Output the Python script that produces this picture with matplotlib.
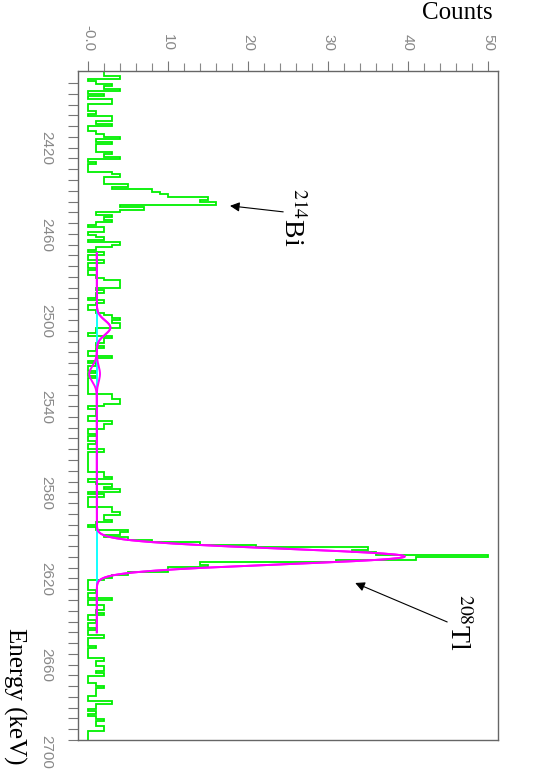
import numpy as np
import matplotlib
matplotlib.use('Agg')
import matplotlib.pyplot as plt

# histogram, bins of ~1.17 keV starting at the top of the energy range
e_start = 2389.4
bin_w = 1.17
counts = [2, 2, 4, 0, 1, 3, 2, 4, 0, 2,
          0, 3, 3, 0, 0, 0, 1, 0, 3, 3,
          1, 3, 0, 0, 1, 2, 4, 1, 3, 1,
          1, 1, 3, 2, 4, 0, 1, 0, 0, 0,
          3, 4, 2, 2, 2, 5, 3, 8, 9, 10,
          15, 14, 16, 4, 7, 4, 1, 3, 2, 3,
          1, 0, 2, 2, 0, 1, 2, 0, 4, 3,
          1, 0, 2, 0, 0, 2, 0, 0, 1, 0,
          0, 1, 2, 4, 4, 4, 1, 2, 1, 1,
          0, 2, 1, 0, 0, 1, 2, 3, 4, 3,
          4, 4, 1, 1, 0, 3, 2, 2, 1, 2,
          1, 0, 0, 3, 1, 0, 1, 0, 0, 1,
          0, 1, 0, 0, 0, 0, 0, 0, 3, 3,
          4, 4, 2, 0, 1, 1, 1, 0, 0, 3,
          2, 2, 0, 0, 1, 0, 0, 1, 0, 0,
          2, 0, 0, 0, 0, 0, 0, 0, 0, 2,
          2, 3, 0, 1, 3, 2, 4, 0, 2, 0,
          0, 0, 0, 3, 3, 4, 2, 2, 3, 1,
          0, 1, 5, 4, 2, 5, 8, 14, 21, 35,
          33, 36, 50, 41, 31, 14, 15, 10, 10, 5,
          3, 2, 0, 0, 0, 0, 1, 0, 0, 3,
          0, 0, 2, 2, 1, 2, 0, 0, 1, 0,
          0, 1, 0, 0, 2, 0, 0, 0, 1, 0,
          0, 0, 0, 2, 1, 1, 2, 2, 1, 2,
          0, 0, 0, 1, 2, 1, 1, 1, 0, 0,
          3, 1, 1, 0, 1, 0, 1, 2, 1, 1,
          2, 2, 0, 0, 0, 0]

# fit: flat background + gaussians (centre, amplitude, sigma)
fit_lo, fit_hi = 2474.0, 2650.0
bkg = 1.1
fit_peaks = [(2508.5, 1.7, 3.3), (2530.0, -0.95, 3.5), (2614.8, 38.5, 3.6)]
alt_peaks = [(2508.5, 1.7, 3.3), (2530.0, 0.4, 3.5), (2614.8, 38.5, 3.6)]

e_tick_labels = [2420, 2460, 2500, 2540, 2580, 2620, 2660, 2700]
c_ticks = [0, 10, 20, 30, 40, 50]
c_tick_labels = ['-0.0', '10', '20', '30', '40', '50']

edges = e_start + bin_w * np.arange(len(counts) + 1)


def model(e, peaks):
    y = np.full_like(e, bkg)
    for mu, a, s in peaks:
        y += a * np.exp(-0.5 * ((e - mu) / s) ** 2)
    return y


plt.rcParams['mathtext.fontset'] = 'stix'

fig = plt.figure(figsize=(5.38, 7.71), dpi=100)
ax = fig.add_axes([78 / 538, 1 - 740 / 771, 420 / 538, 669 / 771])

ax.stairs(counts, edges, orientation='horizontal', baseline=None,
          color='#00f000', linewidth=1.3)

ef = np.linspace(fit_lo, fit_hi, 800)
ax.plot(np.full_like(ef, bkg), ef, color='#00ffff', linewidth=1.3)
ax.plot(model(ef, alt_peaks), ef, color='#ff00ff', linewidth=1.4)
ax.plot(model(ef, fit_peaks), ef, color='#ff00ff', linewidth=1.4)

ax.set_xlim(-1.25, 51.25)
ax.set_ylim(2700, 2389.4)

ax.xaxis.tick_top()
ax.set_xticks(c_ticks)
ax.set_xticklabels(c_tick_labels)
ax.set_xticks(np.arange(0, 51, 2), minor=True)
ax.set_yticks(e_tick_labels)
ax.set_yticks(np.arange(2395, 2701, 5), minor=True)

ax.tick_params(axis='x', which='major', direction='out', length=7.2, width=0.8,
               color='#777777', pad=7, labelsize=11, labelcolor='#888888',
               labelrotation=-90)
ax.tick_params(axis='x', which='minor', direction='out', length=5.5, width=0.8,
               color='#888888')
ax.tick_params(axis='y', which='both', direction='out', length=7.2, width=0.8,
               color='#777777', pad=10.5, labelsize=11, labelcolor='#888888',
               labelrotation=-90)
for lab in ax.get_xticklabels() + ax.get_yticklabels():
    lab.set_family('Liberation Sans')
for sp in ax.spines.values():
    sp.set_color('#666666')
    sp.set_linewidth(1.0)

serif = 'Liberation Serif'
fig.text(493 / 538, 1 - 2 / 771, 'Counts', ha='right', va='top',
         fontsize=18, family=serif)
fig.text(15 / 538, 1 - 765 / 771, 'Energy (keV)', ha='center', va='bottom',
         rotation=-90, fontsize=18, family=serif)

fig.text(292 / 538, 1 - 217 / 771, r'$^{214}$Bi', ha='center', va='center',
         rotation=-90, fontsize=20, family=serif)
fig.text(457 / 538, 1 - 622 / 771, r'$^{208}$Tl', ha='center', va='center',
         rotation=-90, fontsize=20, family=serif)

arrow = dict(arrowstyle='-|>', color='black', lw=0.8, mutation_scale=14,
             shrinkA=0, shrinkB=0)
ax.annotate('', xy=(17.75, 2452.0), xytext=(24.4, 2454.8), arrowprops=arrow)
ax.annotate('', xy=(33.4, 2627.1), xytext=(44.9, 2645.2), arrowprops=arrow)

fig.savefig('out.png', dpi=100)
